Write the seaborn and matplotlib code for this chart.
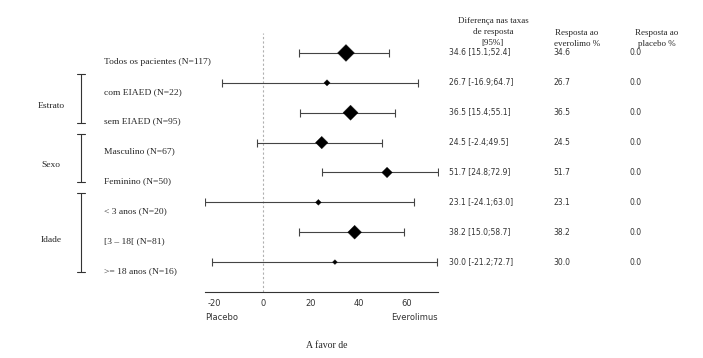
import numpy as np
import pandas as pd
import matplotlib.pyplot as plt
import seaborn as sns
from matplotlib.transforms import blended_transform_factory

# Subgroup data
labels = ["Todos os pacientes (N=117)", "com EIAED (N=22)", "sem EIAED (N=95)",
          "Masculino (N=67)", "Feminino (N=50)", "< 3 anos (N=20)",
          "[3 – 18[ (N=81)", ">= 18 anos (N=16)"]
n_patients = [117, 22, 95, 67, 50, 20, 81, 16]
diff = [34.6, 26.7, 36.5, 24.5, 51.7, 23.1, 38.2, 30.0]
lower = [15.1, -16.9, 15.4, -2.4, 24.8, -24.1, 15.0, -21.2]
upper = [52.4, 64.7, 55.1, 49.5, 72.9, 63.0, 58.7, 72.7]
resp_evero = [34.6, 26.7, 36.5, 24.5, 51.7, 23.1, 38.2, 30.0]
resp_placebo = [0.0, 0.0, 0.0, 0.0, 0.0, 0.0, 0.0, 0.0]

# Groups: name, first row, last row
groups = [("Estrato", 1, 2), ("Sexo", 3, 4), ("Idade", 5, 7)]

data = pd.DataFrame({"label": labels, "n": n_patients, "diff": diff,
                     "lower": lower, "upper": upper,
                     "evero": resp_evero, "placebo": resp_placebo})
data["row"] = np.arange(len(data))

sns.set_style("white")
plt.rcParams["axes.unicode_minus"] = False
serif = ["Liberation Serif", "DejaVu Serif"]
sans = ["DejaVu Sans"]

fig = plt.figure(figsize=(7.03, 3.58), dpi=100)
ax = fig.add_axes([0.2916, 0.1844, 0.3314, 0.7236])

# Confidence intervals
ax.errorbar(data["diff"], data["row"],
            xerr=[data["diff"] - data["lower"], data["upper"] - data["diff"]],
            fmt="none", ecolor="#444444", elinewidth=0.8, capsize=3.2, capthick=0.8)

# Point estimates sized by N
sns.scatterplot(data=data, x="diff", y="row", size="n", sizes=(6, 74),
                marker="D", color="black", edgecolor="black", legend=False, ax=ax, zorder=3)

ax.axvline(0, color="#b0b0b0", linestyle=(0, (2, 2)), linewidth=0.8, zorder=1)

ax.set_xlim(min(lower), max(upper))
ax.set_ylim(8.0, -0.67)
ax.set_yticks([])
ax.set_xticks([-20, 0, 20, 40, 60])
ax.tick_params(axis="x", labelsize=6, length=3, width=0.6, color="#333333",
               labelcolor="#333333", pad=2)
for lab in ax.get_xticklabels():
    lab.set_family(sans)
for side in ["top", "right", "left"]:
    ax.spines[side].set_visible(False)
ax.spines["bottom"].set_color("#333333")
ax.spines["bottom"].set_linewidth(0.8)
ax.set_xlabel("")
ax.set_ylabel("")

# Under-axis annotations
fig.text(0.2916, 1 - 317 / 358, "Placebo", fontsize=6, family=sans, color="#333333",
         ha="left", va="center")
fig.text(0.623, 1 - 317 / 358, "Everolimus", fontsize=6, family=sans, color="#333333",
         ha="right", va="center")
fig.text(327 / 703, 1 - 345 / 358, "A favor de", fontsize=7, family=serif,
         ha="center", va="center")

# Left-hand row labels, brackets and group names
trans = blended_transform_factory(fig.transFigure, ax.transData)
for _, r in data.iterrows():
    fig.text(104 / 703, r["row"] + 0.3, r["label"], transform=trans,
             fontsize=6.8, family=serif, ha="left", va="center")

bx = 81 / 703
cap = 4 / 703
for name, first, last in groups:
    y0, y1 = first - 0.3, last + 0.33
    fig.add_artist(plt.Line2D([bx, bx], [y0, y1], transform=trans, color="#333333", lw=0.8))
    for yy in (y0, y1):
        fig.add_artist(plt.Line2D([bx - cap, bx + cap], [yy, yy], transform=trans,
                                  color="#333333", lw=0.8))
    fig.text(51 / 703, (y0 + y1) / 2 + 0.25, name, transform=trans, fontsize=6.8,
             family=serif, ha="center", va="center")

# Right-hand table
fig.text(493 / 703, 1 - 17 / 358, "Diferença nas taxas\nde resposta\n[95%]",
         fontsize=6.5, family=serif, ha="center", va="top", linespacing=1.5)
fig.text(577 / 703, 1 - 29 / 358, "Resposta ao\neverolimo %", fontsize=6.5,
         family=serif, ha="center", va="top", linespacing=1.5)
fig.text(657 / 703, 1 - 29 / 358, "Resposta ao\nplacebo %", fontsize=6.5,
         family=serif, ha="center", va="top", linespacing=1.5)
for _, r in data.iterrows():
    fig.text(449 / 703, r["row"], f"{r['diff']:.1f} [{r['lower']:.1f};{r['upper']:.1f}]",
             transform=trans, fontsize=5.5, family=sans, color="#333333",
             ha="left", va="center")
    fig.text(553 / 703, r["row"], f"{r['evero']:.1f}", transform=trans, fontsize=5.5,
             family=sans, color="#333333", ha="left", va="center")
    fig.text(629 / 703, r["row"], f"{r['placebo']:.1f}", transform=trans, fontsize=5.5,
             family=sans, color="#333333", ha="left", va="center")

fig.savefig("out.png", dpi=100)
